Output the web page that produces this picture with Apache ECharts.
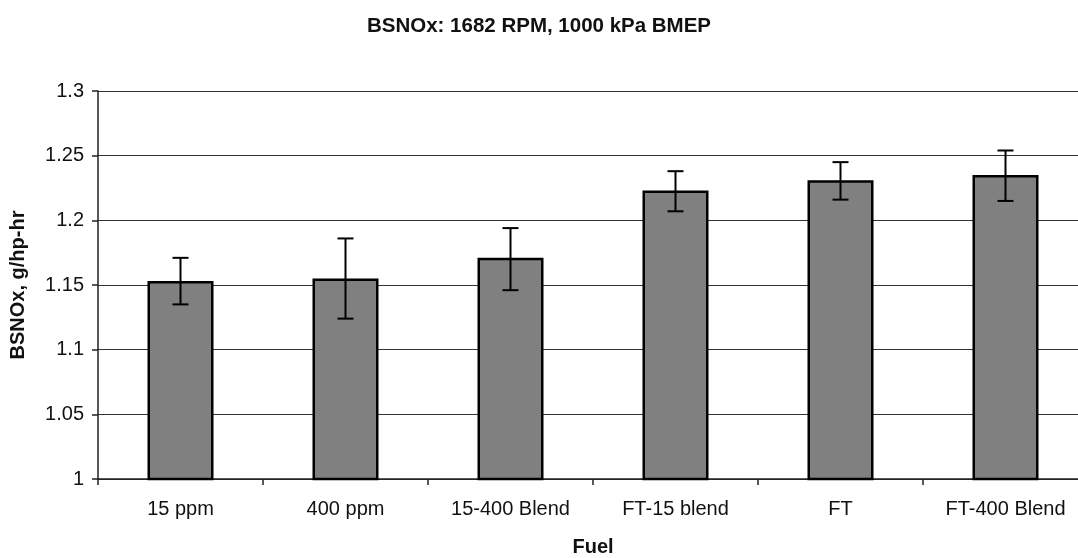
<!DOCTYPE html>
<html>
<head>
<meta charset="utf-8">
<script src="https://cdn.jsdelivr.net/npm/echarts@6/dist/echarts.min.js"></script>
<style>
    html, body {margin:0;padding:0;background:#ffffff;}
    #chart {width:1078px;height:558px;}
</style>
</head>
<body>
<div id="chart"></div>
<script>
    // 数据
    var fuels = ['15 ppm', '400 ppm', '15-400 Blend', 'FT-15 blend', 'FT', 'FT-400 Blend'];
    var bsnox = [1.153, 1.155, 1.171, 1.223, 1.231, 1.235];
    var errHigh = [1.171, 1.186, 1.194, 1.238, 1.245, 1.254];
    var errLow = [1.135, 1.124, 1.146, 1.207, 1.216, 1.215];

    var errData = [];
    for (var i = 0; i < fuels.length; i++) {
        errData.push([i, errLow[i], errHigh[i]]);
    }

    var font = 'Liberation Sans';
    var chart = echarts.init(document.getElementById('chart'));
    var option = {
        animation: false,
        title: {
            text: 'BSNOx: 1682 RPM, 1000 kPa BMEP',
            left: 'center',
            top: 11,
            textStyle: {fontFamily: font, fontSize: 20.5, fontWeight: 'bold', color: '#111'}
        },
        grid: {left: 98, top: 91, bottom: 79, width: 990, outerBoundsMode: 'none'},
        xAxis: {
            type: 'category',
            data: fuels,
            name: 'Fuel',
            nameLocation: 'middle',
            nameGap: 58,
            nameTextStyle: {fontFamily: font, fontSize: 20, fontWeight: 'bold', color: '#111'},
            axisLine: {lineStyle: {color: '#222', width: 1.5}},
            axisTick: {show: true, length: 6, lineStyle: {color: '#222', width: 1.5}},
            axisLabel: {fontFamily: font, fontSize: 20, color: '#111', margin: 20}
        },
        yAxis: {
            type: 'value',
            min: 1,
            max: 1.3,
            interval: 0.05,
            name: 'BSNOx, g/hp-hr',
            nameLocation: 'middle',
            nameGap: 70,
            nameTextStyle: {fontFamily: font, fontSize: 20, fontWeight: 'bold', color: '#111'},
            axisLine: {show: true, lineStyle: {color: '#222', width: 1.5}},
            axisTick: {show: true, length: 6, lineStyle: {color: '#222', width: 1.5}},
            axisLabel: {fontFamily: font, fontSize: 20, color: '#111', margin: 14},
            splitLine: {lineStyle: {color: '#333', width: 1.2}}
        },
        series: [
            {
                type: 'bar',
                data: bsnox,
                barWidth: '40%',
                itemStyle: {color: '#808080', borderColor: '#000', borderWidth: 2.5}
            },
            {
                type: 'custom',
                data: errData,
                z: 10,
                renderItem: function (params, api) {
                    var x = api.value(0);
                    var lo = api.coord([x, api.value(1)]);
                    var hi = api.coord([x, api.value(2)]);
                    var cap = 8;
                    var st = {stroke: '#000', lineWidth: 2};
                    return {
                        type: 'group',
                        children: [
                            {type: 'line', shape: {x1: lo[0], y1: lo[1], x2: hi[0], y2: hi[1]}, style: st},
                            {type: 'line', shape: {x1: hi[0] - cap, y1: hi[1], x2: hi[0] + cap, y2: hi[1]}, style: st},
                            {type: 'line', shape: {x1: lo[0] - cap, y1: lo[1], x2: lo[0] + cap, y2: lo[1]}, style: st}
                        ]
                    };
                }
            }
        ]
    };
    chart.setOption(option);
</script>
</body>
</html>
